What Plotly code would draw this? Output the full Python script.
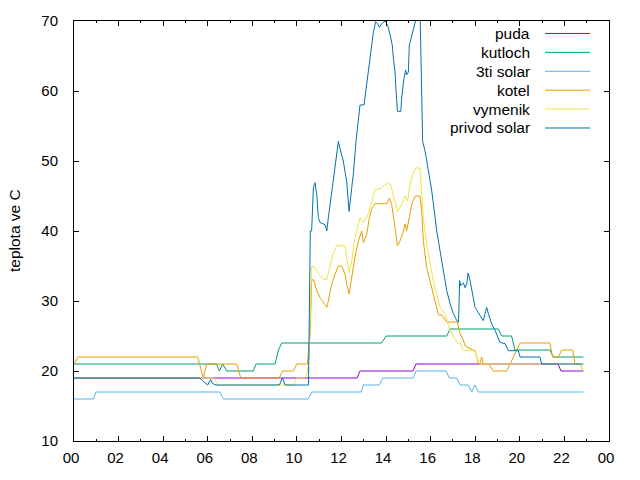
import plotly.graph_objects as go

# ---------------- data (hours of day, temperature in C) ----------------
tick_hours = [0, 2, 4, 6, 8, 10, 12, 14, 16, 18, 20, 22, 24]
tick_labels = ["00", "02", "04", "06", "08", "10", "12", "14", "16", "18", "20", "22", "00"]

puda_t = [0, 12.70, 12.83, 15.21, 15.34, 21.71, 21.85, 22.85]
puda_v = [19, 19, 20, 20, 21, 21, 20, 20]

kutloch_t = [0, 6.4, 6.52, 6.67, 6.85, 8.04, 8.17, 9.02, 9.17, 9.32,
             13.8, 14.0, 16.72, 16.87, 19.04, 19.19, 19.63, 19.78, 21.35, 21.5,
             22.85]
kutloch_v = [21, 21, 20, 21, 20, 20, 21, 21, 23, 24,
             24, 25, 25, 26, 26, 25, 25, 23, 23, 22,
             22]

solar3_t = [0, 0.87, 0.99, 6.55, 6.7, 10.51, 10.66, 12.88, 12.98, 13.7,
            13.85, 15.22, 15.34, 16.69, 16.84, 17.17, 17.32, 17.69, 17.84, 17.99,
            18.14, 22.85]
solar3_v = [16, 16, 17, 17, 16, 16, 17, 17, 18, 18,
            19, 19, 20, 20, 19, 19, 18, 18, 17, 18,
            17, 17]

kotel_t = [0, 0.17, 5.55, 5.8, 5.95, 7.3, 7.48, 9.21, 9.35, 9.84,
           9.99, 10.47, 10.51, 10.6, 10.66, 10.74, 10.89, 11.04, 11.19, 11.34,
           11.41, 11.56, 11.71, 11.86, 12.01, 12.16, 12.23, 12.34, 12.46, 12.6,
           12.76, 12.91, 12.98, 13.13, 13.25, 13.35, 13.5, 14.03, 14.15, 14.25,
           14.4, 14.51, 14.63, 14.78, 14.85, 14.92, 15.04, 15.15, 15.3, 15.52,
           15.6, 15.67, 15.82, 15.97, 16.12, 16.27, 16.35, 16.5, 16.72, 17.2,
           17.32, 17.47, 17.54, 17.99, 18.06, 18.14, 18.21, 18.29, 18.36, 18.6,
           18.74, 18.81, 19.41, 19.56, 19.78, 20.01, 21.35, 21.47, 21.73, 21.88,
           22.37, 22.48, 22.7, 22.85]
kotel_v = [21, 22, 22, 19, 21, 21, 19, 19, 20, 20,
           21, 21, 22.5, 25.5, 32.9, 33.1, 31.5, 30.5, 29.8, 29.1,
           30, 32.4, 33.8, 35, 35, 33.8, 32.4, 31, 33.4, 36.2,
           38.6, 40, 38.3, 39.5, 41.9, 43.1, 43.9, 43.9, 44.7, 43.8,
           40.5, 37.9, 38.6, 40, 41, 40, 41.9, 43.8, 45, 45,
           42.8, 38.6, 34.8, 32.9, 31, 29.1, 28, 28, 27, 27,
           25.3, 24.4, 23.6, 22.8, 22.2, 21.1, 21, 22, 21, 21,
           20.3, 20, 20, 21, 22.7, 24, 24, 22, 22, 23,
           23, 21, 21, 20]

vymenik_t = [0, 6.25, 6.48, 9.84, 9.99, 10.36, 10.47, 10.55, 10.66, 10.74,
             10.89, 11.04, 11.19, 11.34, 11.49, 11.63, 11.78, 12.16, 12.23, 12.34,
             12.46, 12.6, 12.83, 12.98, 13.2, 13.35, 13.5, 13.8, 13.95, 14.1,
             14.21, 14.33, 14.52, 14.7, 14.85, 14.97, 15.07, 15.22, 15.33, 15.52,
             15.6, 15.67, 15.82, 15.97, 16.12, 16.27, 16.42, 16.64, 16.87, 17.09,
             17.24, 17.35, 17.47, 17.99, 18.06, 18.21, 18.51, 22.7, 22.85]
vymenik_v = [19, 19, 18, 18, 19, 19, 19.8, 22, 35, 35,
             34.3, 33.6, 33.1, 33.1, 35, 36.7, 37.9, 37.9, 36.2, 34.1,
             35.7, 39, 41.9, 41.2, 42.4, 44, 45.9, 46.1, 46.6, 46.9,
             46.6, 45, 42.8, 43.8, 45, 44.3, 46.6, 48.3, 49, 49,
             45.7, 41.9, 38.1, 35.3, 32.9, 31, 29.1, 28.2, 25.8, 24.6,
             23.9, 23.9, 22.9, 23, 22, 21, 21, 21, 20]

privod_t = [0, 5.65, 5.8, 6.0, 6.13, 6.22, 6.37, 9.21, 9.35, 9.47,
            10.52, 10.6, 10.66, 10.74, 10.81, 10.89, 10.96, 11.04, 11.26, 11.34,
            11.41, 11.56, 11.71, 11.86, 11.93, 12.08, 12.23, 12.34, 12.46, 12.53,
            12.65, 12.76, 12.83, 13.01, 13.13, 13.2, 13.28, 13.35, 13.43, 13.53,
            13.62, 13.7, 13.8, 13.95, 14.07, 14.18, 14.28, 14.33, 14.4, 14.45,
            14.51, 14.66, 14.7, 14.8, 14.88, 14.92, 15.0, 15.04, 15.15, 15.3,
            15.4, 15.52, 15.6, 15.64, 15.75, 15.82, 15.9, 16.05, 16.2, 16.27,
            16.42, 16.57, 16.72, 16.87, 17.02, 17.17, 17.25, 17.3, 17.35, 17.47,
            17.54, 17.62, 17.68, 17.76, 17.84, 17.91, 17.99, 18.14, 18.29, 18.36,
            18.44, 18.51, 18.59, 18.74, 18.89, 19.04, 19.11, 19.34, 19.49, 19.93,
            20.01, 20.9, 20.98, 22.85]
privod_v = [19, 19, 18.5, 18, 18.8, 18.2, 18, 18, 19, 18,
            18, 40, 40, 46.2, 46.9, 45.2, 41.9, 41.2, 40.9, 40,
            41.9, 45.7, 49.5, 52.8, 51.8, 50, 47.1, 42.8, 46.2, 48.1,
            52.8, 56.1, 58, 58, 60.9, 62.7, 65.1, 66.5, 68.4, 69.9,
            69.6, 69.1, 69.6, 70, 69.4, 68, 66.5, 64.6, 62.7, 59.9,
            57.1, 57.1, 59, 61.8, 63, 62.3, 62.7, 66.5, 68, 69.9,
            71, 72, 58.5, 52.8, 51.4, 50, 48.5, 45.7, 41.9, 40,
            37.2, 34.3, 31.5, 29.6, 28.2, 27.2, 27, 32.9, 32.2, 32.6,
            31.9, 32.4, 34, 33, 31.9, 30.5, 29.1, 28.4, 27.7, 27.2,
            28.2, 29.1, 28.2, 26.7, 25.8, 24.8, 24.1, 23.9, 22.9, 22.9,
            22, 22, 21, 21]

series_names = ["puda", "kutloch", "3ti solar", "kotel", "vymenik", "privod solar"]
series_colors = ["#9400d3", "#009e73", "#56b4e9", "#e69f00", "#f0e442", "#0072b2"]
series_t = [puda_t, kutloch_t, solar3_t, kotel_t, vymenik_t, privod_t]
series_v = [puda_v, kutloch_v, solar3_v, kotel_v, vymenik_v, privod_v]

# ---------------- figure ----------------
W, H = 640, 480
L, R, T, B = 74, 31, 19, 39
pw, ph = W - L - R, H - T - B
FONT = "Liberation Sans, Arial, sans-serif"

fig = go.Figure()
for name, col, t, v in zip(series_names, series_colors, series_t, series_v):
    fig.add_trace(go.Scatter(x=t, y=v, mode="lines", name=name,
                             line=dict(color=col, width=1), showlegend=False))

# gnuplot-style key: right-aligned text, sample line to the right
annotations = []
shapes = []
for i, (name, col) in enumerate(zip(series_names, series_colors)):
    ypx = 31.5 + 19 * i
    yp = (H - B - ypx) / ph
    annotations.append(dict(x=(532 - L) / pw, y=yp, xref="paper", yref="paper",
                            text=name, showarrow=False, xanchor="right",
                            yanchor="middle", font=dict(size=15.5, color="black", family=FONT)))
    shapes.append(dict(type="line", xref="paper", yref="paper",
                       x0=(545 - L) / pw, x1=(590 - L) / pw, y0=yp, y1=yp,
                       line=dict(color=col, width=1)))

annotations.append(dict(x=(14 - L) / pw, y=0.5, xref="paper", yref="paper",
                        text="teplota ve C", textangle=-90, showarrow=False,
                        xanchor="center", yanchor="middle",
                        font=dict(size=15.5, color="black", family=FONT)))

fig.update_layout(
    width=W, height=H,
    margin=dict(l=L, r=R, t=T, b=B, pad=0),
    paper_bgcolor="white", plot_bgcolor="white",
    font=dict(family=FONT, size=15, color="black"),
    showlegend=False,
    annotations=annotations,
    shapes=shapes,
    xaxis=dict(range=[0, 24], tickmode="array", tickvals=tick_hours, ticktext=tick_labels,
               ticks="inside", ticklen=5, tickcolor="black", tickwidth=1,
               minor=dict(dtick=1, tick0=0, ticks="inside", ticklen=2, tickcolor="black"),
               showline=True, linecolor="black", linewidth=1, mirror="ticks",
               showgrid=False, zeroline=False, ticklabelstandoff=3, ticklabelshift=-3),
    yaxis=dict(range=[10, 70], tick0=10, dtick=10,
               ticks="inside", ticklen=5, tickcolor="black", tickwidth=1,
               showline=True, linecolor="black", linewidth=1, mirror="ticks",
               showgrid=False, zeroline=False, ticklabelstandoff=12),
)

fig.write_html("out.html")
